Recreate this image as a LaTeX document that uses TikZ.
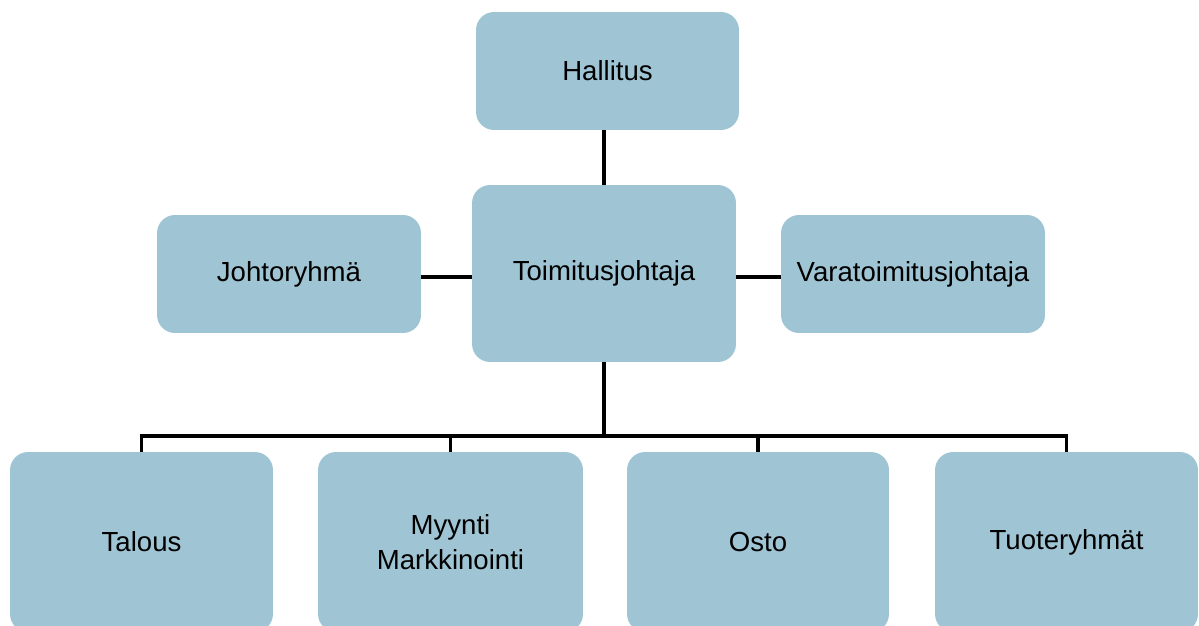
\documentclass[tikz,border=0pt]{standalone}
\usepackage{fontspec}
\setmainfont{Liberation Sans}
\definecolor{boxblue}{RGB}{159,196,212}
\begin{document}
\begin{tikzpicture}[x=0.02cm, y=-0.02cm,
  box/.style={shape=rectangle, rounded corners=0.36cm, fill=boxblue, draw=none, minimum width=5.26cm, align=center, font=\fontsize{15.7}{19.8}\selectfont},
  link/.style={-, line width=2pt, draw=black}]
\useasboundingbox (0,0) rectangle (1199,625);
\node[box, minimum height=2.36cm] (hallitus) at (607.5,71) {Hallitus};
\node[box, minimum height=3.54cm, minimum width=5.28cm] (toimitus) at (604,273.5) {Toimitusjohtaja};
\node[box, minimum height=2.36cm, minimum width=5.28cm] (johto) at (289,274) {Johtoryhmä};
\node[box, minimum height=2.36cm, minimum width=5.28cm] (vara) at (913,274) {Varatoimitusjohtaja};
\node[box, minimum height=3.6cm] (talous) at (141.5,542) {Talous};
\node[box, minimum height=3.6cm, minimum width=5.3cm] (myynti) at (450.5,542) {Myynti\\Markkinointi};
\node[box, minimum height=3.6cm, minimum width=5.24cm] (osto) at (758,542) {Osto};
\node[box, minimum height=3.6cm] (tuote) at (1066.5,542) {Tuoteryhmät};
\coordinate (bar) at (604,436);
\draw[link] (toimitus.north) -- (toimitus.north |- hallitus.south);
\draw[link] ([yshift=-0.06cm]johto.east) -- ([yshift=-0.06cm]toimitus.west |- johto.east);
\draw[link] ([yshift=-0.06cm]toimitus.east |- vara.west) -- ([yshift=-0.06cm]vara.west);
\draw[link] (toimitus.south) -- (bar);
\foreach \n in {talous,myynti,osto,tuote}
  \draw[link] (\n.north) |- (bar);
\end{tikzpicture}
\end{document}
